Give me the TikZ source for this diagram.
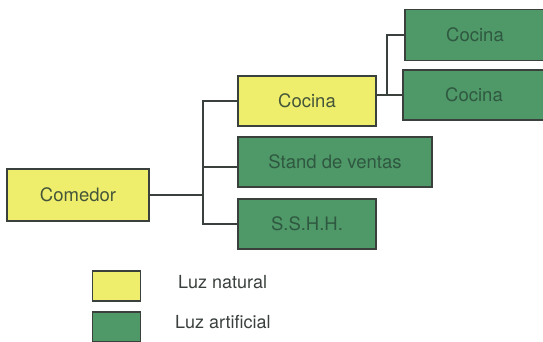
\documentclass[tikz,border=0pt]{standalone}
\usepackage{fontspec}
\setmainfont{TeX Gyre Heros}
\definecolor{natural}{HTML}{EEEE6C}
\definecolor{artificial}{HTML}{4F9868}
\definecolor{linea}{HTML}{3A403C}
\definecolor{textonat}{HTML}{44553A}
\definecolor{textoart}{HTML}{2F5840}
\tikzset{
  caja/.style={draw=linea,line width=1.3pt,rectangle,inner sep=0pt,minimum height=50pt,font=\fontsize{18.5}{22}\selectfont},
  cajanat/.style={caja,fill=natural,text=textonat},
  cajaart/.style={caja,fill=artificial,text=textoart},
  conector/.style={draw=linea,line width=1.3pt},
  leyenda/.style={anchor=west,inner sep=0pt,text=linea,font=\fontsize{18}{22}\selectfont}
}
\begin{document}
\begin{tikzpicture}[x=1pt,y=-1pt]
\useasboundingbox (0,0) rectangle (543,342);
\node[cajanat,minimum width=142pt,minimum height=52pt] (comedor) at (78,195) {Comedor};
\node[cajanat,minimum width=138pt] (cocina) at (307,101) {Cocina};
\node[cajaart,minimum width=194pt] (stand) at (335,162) {Stand de ventas};
\node[cajaart,minimum width=138pt] (sshh) at (307,224) {S.S.H.H.};
\node[cajaart,minimum width=140pt,minimum height=51pt] (cocinaA) at (475,35) {Cocina};
\node[cajaart,minimum width=142pt] (cocinaB) at (474,95) {Cocina};
\coordinate (tronco) at (203,0);
\coordinate (tronco2) at (387,0);
\draw[conector] (cocina.west) -- (cocina.west -| tronco) -- (sshh.west -| tronco) -- (sshh.west);
\draw[conector] (comedor.east) -- (comedor.east -| tronco);
\draw[conector] ([yshift=-5pt]stand.west) -- ([yshift=-5pt]stand.west -| tronco);
\draw[conector] (cocinaA.west) -- (cocinaA.west -| tronco2) -- (cocinaB.west -| tronco2);
\draw[conector] (cocina.east |- cocinaB.west) -- (cocinaB.west);
% leyenda
\node[cajanat,minimum width=48pt,minimum height=30pt] (natural) at (116.5,286) {};
\node[cajaart,minimum width=48pt,minimum height=30pt] (artificial) at (116.5,327) {};
\node[leyenda] (txtnat) at (178,282) {Luz natural};
\node[leyenda] (txtart) at (175,322) {Luz artificial};
\end{tikzpicture}
\end{document}
